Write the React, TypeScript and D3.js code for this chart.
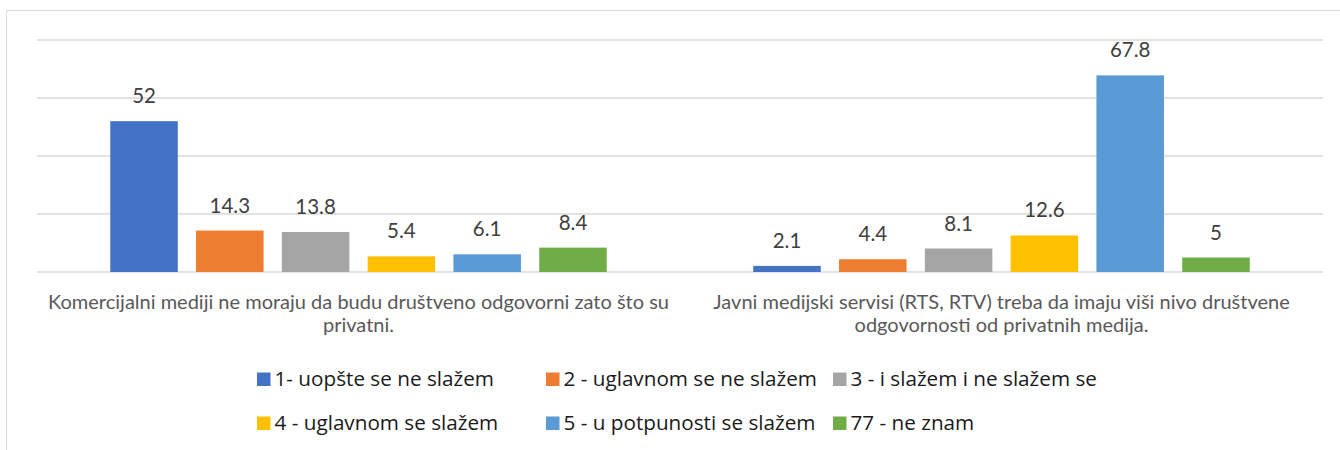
import React from "react";
import * as d3 from "d3";

const categories = [
  "Komercijalni mediji ne moraju da budu društveno odgovorni zato što su privatni.",
  "Javni medijski servisi (RTS, RTV) treba da imaju viši nivo društvene odgovornosti od privatnih medija.",
];
const categoryLines = [
  ["Komercijalni mediji ne moraju da budu društveno odgovorni zato što su", "privatni."],
  ["Javni medijski servisi (RTS, RTV) treba da imaju viši nivo društvene", "odgovornosti od privatnih medija."],
];
const seriesNames = [
  "1- uopšte se ne slažem",
  "2 - uglavnom se ne slažem",
  "3 - i slažem i ne slažem se",
  "4 - uglavnom se slažem",
  "5 - u potpunosti se slažem",
  "77 - ne znam",
];
const seriesColors = ["#4472C4", "#ED7D31", "#A5A5A5", "#FFC000", "#5B9BD5", "#70AD47"];
const values1 = [52, 14.3, 13.8, 5.4, 6.1, 8.4];
const values2 = [2.1, 4.4, 8.1, 12.6, 67.8, 5];
const valuesByCategory = [values1, values2];
const yTicks = [0, 20, 40, 60, 80];

const W = 1340;
const H = 450;
const FONT = "Lato, 'Open Sans', sans-serif";
const LEGEND_FONT = "'Open Sans', Lato, sans-serif";

export default function App() {
  const x0 = d3.scaleBand<number>().domain([0, 1]).range([37, 1323]).paddingInner(0).paddingOuter(0);
  const x1 = d3
    .scaleBand<number>()
    .domain(d3.range(seriesNames.length))
    .range([0, x0.bandwidth()])
    .paddingInner(0.213)
    .paddingOuter(0.854);
  const y = d3.scaleLinear().domain([0, 80]).range([272, 40]);

  const legendCols = [257, 546, 833];
  const legendRows = [372.5, 416.5];

  return (
    <svg width={W} height={H} style={{ position: "absolute", left: 0, top: 0, display: "block" }}>
      <rect x={0} y={0} width={W} height={H} fill="#fff" />
      <rect x={6.5} y={10.5} width={W + 20} height={H + 20} fill="none" stroke="#D9D9D9" strokeWidth={1} />
      {yTicks.map((t) => (
        <line key={t} x1={37} x2={1323} y1={y(t)} y2={y(t)} stroke="#D9D9D9" strokeWidth={1.3} />
      ))}
      {valuesByCategory.map((vals, ci) => (
        <g key={ci} transform={`translate(${x0(ci)},0)`}>
          {vals.map((v, si) => (
            <g key={si}>
              <rect
                x={x1(si)}
                y={y(v)}
                width={x1.bandwidth()}
                height={y(0) - y(v)}
                fill={seriesColors[si]}
              />
              <text
                x={(x1(si) as number) + x1.bandwidth() / 2}
                y={y(v) - 18}
                textAnchor="middle"
                fontFamily={FONT}
                fontSize={20.5}
                fill="#404040"
              >
                {v}
              </text>
            </g>
          ))}
          {categoryLines[ci].map((ln, li) => (
            <text
              key={li}
              x={x0.bandwidth() / 2}
              y={309 + li * 22.5}
              textAnchor="middle"
              fontFamily={FONT}
              fontSize={20}
              fill="#595959"
            >
              {ln}
            </text>
          ))}
        </g>
      ))}
      {seriesNames.map((s, i) => {
        const cx = legendCols[i % 3];
        const cy = legendRows[Math.floor(i / 3)];
        return (
          <g key={s}>
            <rect x={cx} y={cy} width={13.5} height={13.5} fill={seriesColors[i]} />
            <text x={cx + 17.5} y={cy + 13.5} fontFamily={LEGEND_FONT} fontSize={20.7} fill="#1a1a1a">
              {s}
            </text>
          </g>
        );
      })}
    </svg>
  );
}
